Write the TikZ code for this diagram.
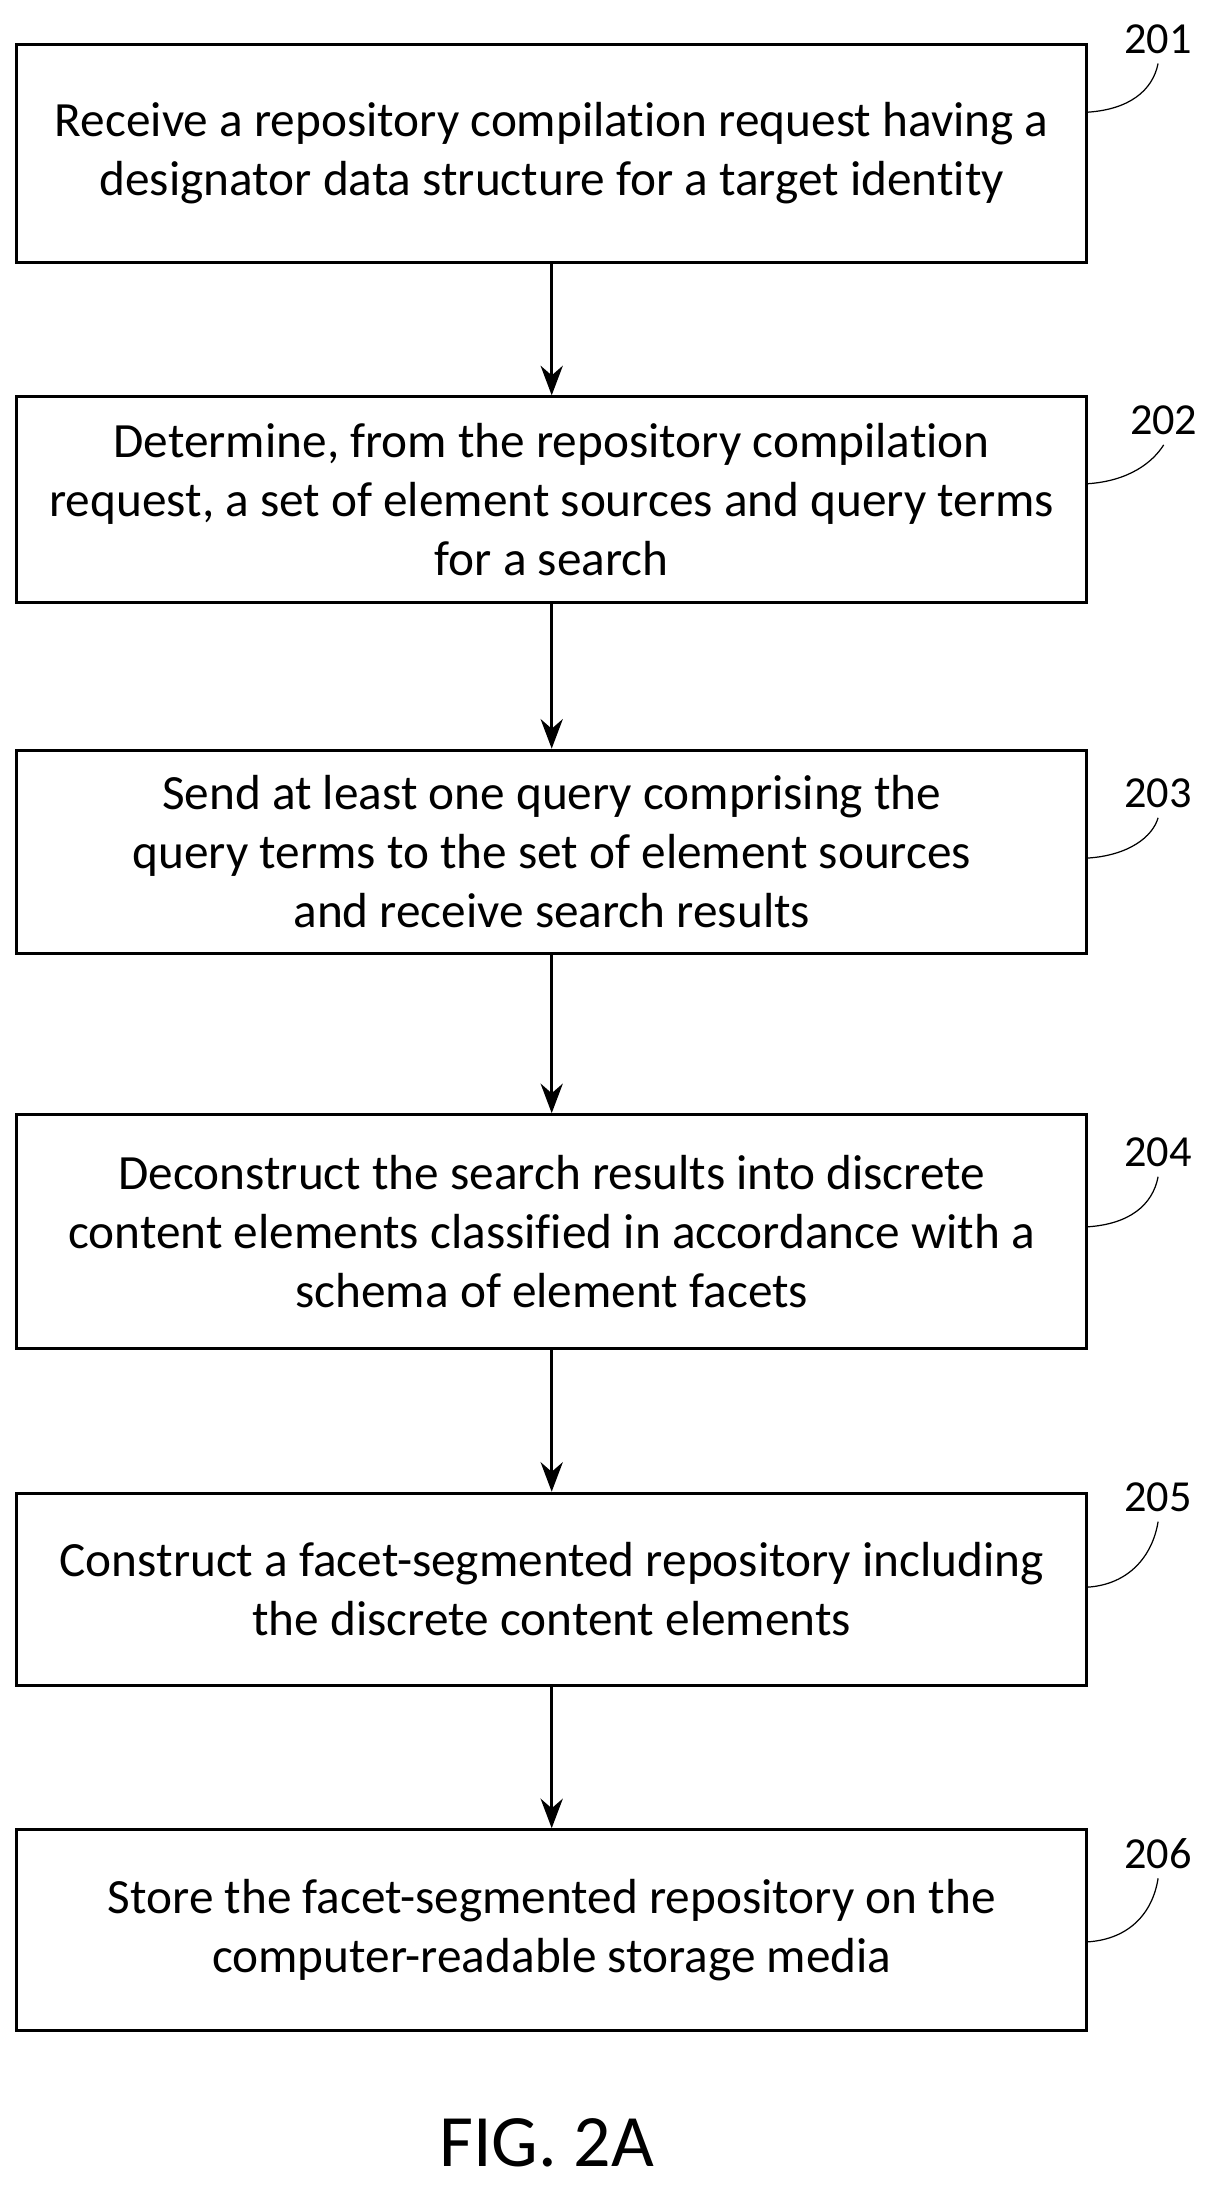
\documentclass[tikz,border=0pt]{standalone}
\usepackage{fontspec}
\setmainfont{Carlito}[Ligatures=NoCommon]
\usetikzlibrary{positioning}
\usetikzlibrary{arrows.meta}

\begin{document}
\begin{tikzpicture}[x=0.02cm,y=-0.02cm,line width = 1.2pt,
    stage/.style = {draw, minimum width = 15.26cm, align = center, font = \fontsize{20}{24}\selectfont},
    flow/.style = {-{Stealth[length=12pt,width=9pt]}},
    tag/.style = {font = \fontsize{18}{20}\selectfont},
    lead/.style = {line width = 0.5pt}]

    \useasboundingbox (0,0) rectangle (860,1562);

    % process steps
    \node (S1) at (393.5,109.5) [stage, minimum height = 3.1cm] {Receive a repository compilation request having a\\designator data structure for a target identity};
    \node (S2) at (393.5,356.5) [stage, minimum height = 2.94cm] {Determine, from the repository compilation\\request, a set of element sources and query terms\\for a search};
    \node (S3) at (393.5,607.5) [stage, minimum height = 2.9cm] {Send at least one query comprising the\\query terms to the set of element sources\\and receive search results};
    \node (S4) at (393.5,878.5) [stage, minimum height = 3.34cm] {Deconstruct the search results into discrete\\content elements classified in accordance with a\\schema of element facets};
    \node (S5) at (393.5,1133.5) [stage, minimum height = 2.74cm] {Construct a facet-segmented repository including\\the discrete content elements};
    \node (S6) at (393.5,1376.5) [stage, minimum height = 2.86cm] {Store the facet-segmented repository on the\\computer-readable storage media};

    \draw[flow] (S1) -- (S2);
    \draw[flow] (S2) -- (S3);
    \draw[flow] (S3) -- (S4);
    \draw[flow] (S4) -- (S5);
    \draw[flow] (S5) -- (S6);

    % reference numerals
    \node (L1) at (826,28) [tag] {201};
    \node (L2) at (830,300) [tag] {202};
    \node (L3) at (826,566) [tag] {203};
    \node (L4) at (826,822) [tag] {204};
    \node (L5) at (826,1068) [tag] {205};
    \node (L6) at (826,1322) [tag] {206};

    \draw[lead] (S1.east |- 0,80) .. controls (805,78) and (822,65) .. (L1.south);
    \draw[lead] (S2.east |- 0,345) .. controls (805,343) and (822,330) .. (L2.south);
    \draw[lead] (S3.east |- 0,612) .. controls (805,610) and (822,597) .. (L3.south);
    \draw[lead] (S4.east |- 0,875) .. controls (805,873) and (822,860) .. (L4.south);
    \draw[lead] (S5.east |- 0,1132) .. controls (805,1130) and (822,1110) .. (L5.south);
    \draw[lead] (S6.east |- 0,1385) .. controls (805,1383) and (822,1365) .. (L6.south);

    \node (fig) at (390,1528) [font = \fontsize{30}{34}\selectfont] {FIG. 2A};
\end{tikzpicture}
\end{document}
